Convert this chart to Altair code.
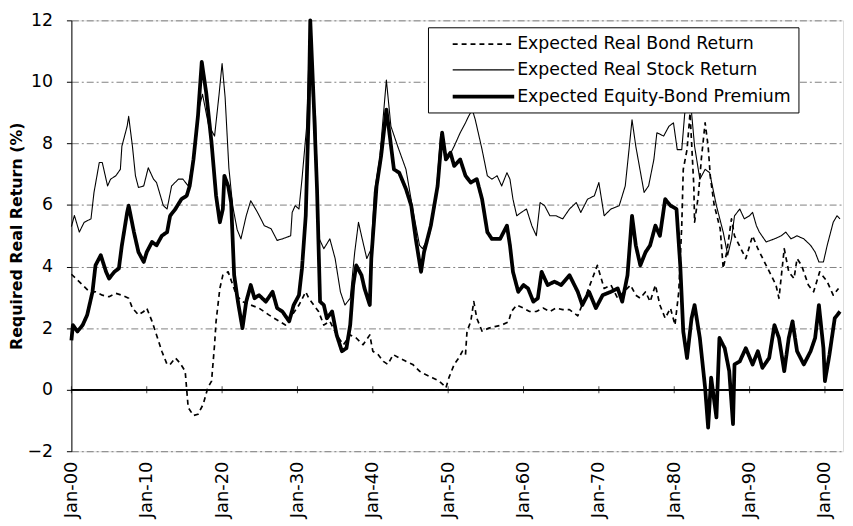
import altair as alt
import pandas as pd

# ---- data ----
stock_years = [1900.0, 1900.4, 1901.05, 1901.7, 1902.6, 1903.0, 1903.7, 1904.1, 1904.8, 1905.2, 1905.9, 1906.5,
               1906.7, 1907.4, 1907.6, 1908.1, 1908.5, 1908.9, 1909.6, 1910.2, 1910.9, 1911.3, 1912.2, 1912.7,
               1913.3, 1914.2, 1914.8, 1915.5, 1916.2, 1916.8, 1917.4, 1918.2, 1919.0, 1919.6, 1920.0, 1920.4,
               1920.9, 1921.4, 1922.0, 1922.5, 1923.2, 1923.8, 1924.7, 1925.6, 1926.5, 1927.3, 1928.0, 1929.1,
               1929.3, 1929.7, 1930.2, 1930.6, 1931.2, 1931.7, 1932.0, 1932.4, 1932.7, 1932.9, 1933.5, 1934.3,
               1935.0, 1935.7, 1936.3, 1937.0, 1937.6, 1938.1, 1938.5, 1939.2, 1939.8, 1940.2, 1940.9, 1941.8,
               1942.4, 1943.3, 1944.4, 1945.3, 1946.2, 1946.6, 1947.5, 1948.4, 1949.0, 1949.9, 1950.8, 1951.6,
               1952.3, 1952.7, 1953.2, 1953.6, 1954.5, 1955.2, 1955.8, 1956.5, 1957.1, 1957.8, 1958.2, 1958.6,
               1959.1, 1959.7, 1960.4, 1961.1, 1961.7, 1962.2, 1962.8, 1963.5, 1964.3, 1965.2, 1966.1, 1967.0,
               1967.6, 1968.5, 1969.4, 1970.0, 1970.7, 1971.6, 1972.7, 1973.5, 1974.0, 1974.4, 1974.9, 1976.0,
               1976.6, 1977.3, 1977.7, 1978.6, 1979.3, 1979.9, 1980.4, 1981.0, 1981.4, 1981.9, 1982.3, 1982.7,
               1983.4, 1984.1, 1984.7, 1985.6, 1986.5, 1987.1, 1987.6, 1988.0, 1988.7, 1989.3, 1990.0, 1990.4,
               1990.9, 1991.3, 1992.2, 1993.3, 1994.2, 1994.8, 1995.5, 1996.3, 1997.2, 1998.1, 1998.7, 1999.2,
               1999.8, 2000.3, 2001.1, 2001.6, 2002.0]
stock_values = [5.3, 5.66, 5.12, 5.44, 5.55, 6.41, 7.38, 7.38, 6.62, 6.84, 6.95, 7.16,
                7.91, 8.56, 8.88, 7.91, 6.95, 6.57, 6.62, 7.21, 6.84, 6.73, 5.98, 5.87,
                6.62, 6.84, 6.84, 6.62, 7.48, 9.0, 9.6, 8.6, 8.24, 9.6, 10.6, 9.5,
                7.2, 5.98, 5.2, 4.9, 5.65, 6.14, 5.76, 5.33, 5.23, 4.85, 4.9, 5.0,
                5.76, 5.98, 5.87, 6.84, 8.5, 12.0, 9.5, 8.9, 6.0, 4.9, 4.58, 4.9,
                4.26, 3.18, 2.75, 2.97, 4.47, 5.44, 5.0, 4.26, 4.58, 6.41, 7.48, 10.06,
                8.56, 7.91, 7.16, 5.87, 4.69, 4.58, 5.0, 6.3, 8.3, 7.48, 7.91, 8.35,
                8.67, 8.88, 9.1, 8.77, 7.8, 6.95, 6.84, 6.95, 6.62, 7.05, 6.84, 6.19,
                5.65, 5.76, 5.87, 5.33, 5.0, 6.08, 5.98, 5.65, 5.65, 5.55, 5.87, 6.08,
                5.76, 6.19, 6.3, 6.73, 5.65, 5.87, 5.98, 6.62, 7.8, 8.77, 7.91, 6.41,
                6.62, 7.48, 8.35, 8.24, 8.56, 8.67, 7.8, 7.8, 8.99, 9.1, 9.0, 7.91,
                6.84, 7.16, 7.05, 5.98, 5.12, 4.37, 4.9, 5.65, 5.87, 5.55, 5.65, 5.76,
                5.33, 5.12, 4.8, 4.9, 5.0, 5.12, 4.9, 5.0, 4.9, 4.69, 4.47, 4.15,
                4.15, 4.69, 5.44, 5.65, 5.55]

premium_years = [1900.0, 1900.2, 1900.8, 1901.5, 1902.1, 1902.8, 1903.2, 1903.9, 1904.6, 1905.0, 1905.7, 1906.3,
                 1906.7, 1907.4, 1907.6, 1908.3, 1908.9, 1909.6, 1910.0, 1910.7, 1911.3, 1912.0, 1912.7, 1913.1,
                 1913.8, 1914.6, 1915.3, 1915.7, 1916.2, 1916.8, 1917.3, 1917.9, 1918.6, 1919.2, 1919.7, 1920.1,
                 1920.3, 1920.8, 1921.2, 1921.6, 1922.1, 1922.7, 1923.2, 1923.8, 1924.3, 1924.9, 1925.8, 1926.7,
                 1927.3, 1928.0, 1928.9, 1929.5, 1930.2, 1930.6, 1931.1, 1931.5, 1931.7, 1932.2, 1932.6, 1933.0,
                 1933.5, 1933.9, 1934.6, 1935.2, 1935.9, 1936.5, 1937.0, 1937.4, 1937.8, 1938.5, 1938.9, 1939.6,
                 1939.8, 1940.5, 1941.1, 1941.8, 1942.2, 1942.8, 1943.5, 1944.4, 1945.1, 1945.7, 1946.4, 1946.8,
                 1947.7, 1948.6, 1949.2, 1949.7, 1950.3, 1950.8, 1951.6, 1952.3, 1953.0, 1953.8, 1954.5, 1955.2,
                 1955.8, 1956.9, 1957.8, 1958.2, 1958.6, 1959.3, 1960.0, 1960.6, 1961.3, 1961.9, 1962.4, 1963.2,
                 1964.1, 1965.0, 1966.1, 1967.2, 1967.8, 1968.7, 1969.6, 1970.5, 1971.6, 1972.5, 1973.1, 1973.8,
                 1974.4, 1974.9, 1975.5, 1976.2, 1976.8, 1977.5, 1978.1, 1978.8, 1979.5, 1980.3, 1980.8, 1981.2,
                 1981.7, 1982.3, 1982.7, 1983.4, 1984.1, 1984.5, 1984.9, 1985.6, 1986.0, 1986.7, 1987.3, 1987.8,
                 1988.0, 1988.7, 1989.5, 1990.4, 1991.1, 1991.7, 1992.6, 1993.3, 1993.9, 1994.6, 1995.2, 1995.7,
                 1996.3, 1997.2, 1998.1, 1998.7, 1999.2, 1999.8, 2000.0, 2000.6, 2001.3, 2002.0]
premium_values = [1.6, 2.1, 1.89, 2.1, 2.43, 3.18, 4.04, 4.37, 3.83, 3.61, 3.83, 3.94,
                  4.69, 5.76, 5.98, 5.12, 4.47, 4.15, 4.47, 4.8, 4.69, 5.0, 5.12, 5.65,
                  5.87, 6.19, 6.3, 6.62, 7.48, 8.9, 10.65, 9.63, 8.02, 6.3, 5.44, 5.87,
                  6.95, 6.62, 6.08, 3.72, 2.86, 2.0, 2.86, 3.4, 2.97, 3.07, 2.86, 3.18,
                  2.65, 2.54, 2.22, 2.75, 3.07, 3.94, 5.65, 9.1, 12.0, 9.1, 6.5, 2.86,
                  2.75, 2.32, 2.54, 1.78, 1.25, 1.35, 2.1, 3.4, 4.04, 3.72, 3.29, 2.75,
                  4.26, 6.62, 7.59, 9.1, 8.35, 7.16, 7.05, 6.52, 5.98, 4.9, 3.83, 4.47,
                  5.33, 6.62, 8.35, 7.48, 7.7, 7.27, 7.48, 6.95, 6.73, 6.84, 6.19, 5.12,
                  4.9, 4.9, 5.33, 4.69, 3.83, 3.18, 3.4, 3.29, 2.86, 2.97, 3.83, 3.4,
                  3.51, 3.4, 3.72, 3.18, 2.75, 3.18, 2.65, 3.07, 3.18, 3.29, 2.86, 3.72,
                  5.65, 4.69, 4.04, 4.47, 4.69, 5.33, 5.0, 6.19, 5.98, 5.87, 4.04, 1.89,
                  1.03, 2.32, 2.75, 1.68, 0.06, -1.23, 0.39, -0.9, 1.68, 1.35, 0.6, -1.12,
                  0.82, 0.92, 1.35, 0.82, 1.25, 0.71, 1.03, 2.1, 1.68, 0.6, 1.68, 2.22,
                  1.25, 0.82, 1.25, 1.68, 2.75, 1.35, 0.28, 1.14, 2.32, 2.54]

bond_years = [1900.0, 1900.6, 1901.5, 1902.4, 1903.2, 1904.1, 1905.0, 1905.9, 1906.7, 1907.6, 1908.1, 1908.9,
              1909.6, 1910.0, 1910.7, 1911.3, 1912.0, 1912.7, 1913.1, 1913.8, 1914.4, 1915.1, 1915.5, 1916.2,
              1916.8, 1917.5, 1918.1, 1918.6, 1919.0, 1919.2, 1919.7, 1920.1, 1920.8, 1921.9, 1922.7, 1923.8,
              1924.9, 1926.2, 1927.6, 1928.4, 1929.3, 1930.2, 1931.1, 1931.5, 1932.8, 1933.5, 1934.3, 1935.2,
              1936.1, 1937.0, 1937.8, 1938.7, 1939.6, 1940.0, 1940.7, 1941.4, 1942.0, 1942.7, 1943.5, 1944.4,
              1945.3, 1946.2, 1947.0, 1947.9, 1948.8, 1949.5, 1949.7, 1950.1, 1950.8, 1951.4, 1951.9, 1952.3,
              1952.5, 1953.0, 1953.4, 1953.8, 1954.5, 1955.4, 1956.2, 1957.1, 1958.0, 1958.4, 1959.1, 1960.0,
              1960.8, 1961.7, 1962.6, 1963.5, 1964.3, 1965.2, 1966.1, 1967.2, 1968.5, 1969.8, 1970.7, 1971.6,
              1972.5, 1973.3, 1974.2, 1974.9, 1975.5, 1976.2, 1976.8, 1977.5, 1978.1, 1978.8, 1979.5, 1980.1,
              1980.6, 1981.0, 1981.2, 1981.7, 1982.1, 1982.6, 1982.7, 1983.2, 1983.6, 1984.1, 1984.5, 1984.8,
              1985.3, 1986.1, 1986.5, 1987.0, 1987.6, 1988.0, 1989.5, 1990.4, 1991.1, 1992.2, 1993.5, 1993.9,
              1994.6, 1995.2, 1995.9, 1996.3, 1996.9, 1997.8, 1998.5, 1999.3, 2000.3, 2001.1, 2001.8]
bond_values = [3.75, 3.61, 3.4, 3.18, 3.18, 3.07, 3.02, 3.13, 3.07, 2.97, 2.65, 2.43,
               2.54, 2.65, 2.22, 1.78, 1.25, 0.82, 0.82, 1.03, 0.87, 0.6, -0.58, -0.84,
               -0.8, -0.47, 0.06, 0.28, 1.46, 2.22, 3.29, 3.72, 3.83, 3.07, 2.86, 2.75,
               2.65, 2.43, 2.22, 2.1, 2.43, 2.75, 3.18, 2.97, 2.54, 2.1, 2.22, 1.78,
               1.46, 1.78, 1.68, 1.46, 1.78, 1.25, 1.14, 0.92, 0.82, 1.14, 1.03, 0.92,
               0.82, 0.6, 0.49, 0.39, 0.28, 0.12, 0.06, 0.39, 0.82, 1.03, 1.25, 1.14,
               1.89, 2.22, 2.86, 2.32, 1.9, 2.0, 2.05, 2.1, 2.2, 2.54, 2.75, 2.65,
               2.54, 2.54, 2.65, 2.54, 2.65, 2.6, 2.6, 2.4, 3.2, 4.04, 3.29, 3.4,
               2.97, 3.18, 3.4, 3.07, 2.97, 3.18, 2.86, 3.4, 2.75, 2.32, 2.65, 2.1,
               3.18, 5.33, 7.16, 7.8, 8.99, 6.62, 5.44, 6.3, 7.5, 8.67, 7.91, 6.9,
               6.0, 5.23, 3.94, 4.5, 5.55, 5.0, 4.26, 5.0, 4.58, 4.04, 3.4, 2.97,
               4.58, 3.83, 3.61, 4.26, 4.04, 3.4, 3.18, 3.83, 3.51, 3.07, 3.29]

series_names = ["Expected Real Bond Return", "Expected Real Stock Return", "Expected Equity-Bond Premium"]
decade_ticks = [1900, 1910, 1920, 1930, 1940, 1950, 1960, 1970, 1980, 1990, 2000]
y_ticks = [-2, 0, 2, 4, 6, 8, 10, 12]

rows = []
for name, ys, vs in [(series_names[0], bond_years, bond_values),
                     (series_names[1], stock_years, stock_values),
                     (series_names[2], premium_years, premium_values)]:
    for yr, v in zip(ys, vs):
        rows.append({"series": name, "year": yr, "value": v})
df = pd.DataFrame(rows)
ticks_df = pd.DataFrame({"year": decade_ticks})

FONT = "DejaVu Sans"

x_scale = alt.Scale(domain=[1900, 2002.4], nice=False, zero=False)
y_scale = alt.Scale(domain=[-2, 12], nice=False)

legend = alt.Legend(title=None, orient="none", legendX=360, legendY=7,
                    symbolType="M-3.45,0H3.45", symbolSize=324,
                    symbolStrokeColor="black", symbolFillColor="transparent",
                    labelFont=FONT, labelFontSize=17.5, labelColor="black",
                    labelOffset=23, labelLimit=400,
                    strokeColor="black", fillColor="white",
                    padding=7, rowPadding=7, symbolOffset=38)

lines = alt.Chart(df).mark_line(color="black", strokeJoin="round").encode(
    x=alt.X("year:Q", scale=x_scale,
            axis=alt.Axis(values=decade_ticks, labelAngle=-90, domain=False, ticks=False, grid=False,
                          labelExpr="'Jan-' + (datum.value % 100 < 10 ? '0' : '') + (datum.value % 100)",
                          labelFont=FONT, labelFontSize=18, labelColor="black", labelPadding=10,
                          title=None)),
    y=alt.Y("value:Q", scale=y_scale,
            axis=alt.Axis(values=y_ticks, grid=True, gridColor="#555", gridDash=[7, 3, 2, 3],
                          gridOpacity=0.75, domainColor="black", tickColor="black", tickSize=5,
                          labelFont=FONT, labelFontSize=17.5, labelColor="black", labelPadding=14,
                          title="Required Real Return (%)", titleFont=FONT, titleFontSize=16,
                          titleFontWeight="bold", titleColor="black", titlePadding=3)),
    strokeDash=alt.StrokeDash("series:N",
                              scale=alt.Scale(domain=series_names, range=[[5, 4], [1, 0], [1, 0]]),
                              legend=legend),
    strokeWidth=alt.StrokeWidth("series:N",
                                scale=alt.Scale(type="ordinal", domain=series_names, range=[1.7, 1.1, 3.8]),
                                legend=legend),
    order=alt.Order("year:Q"),
)

zero_rule = alt.Chart(ticks_df).mark_rule(color="black", strokeWidth=1.2).encode(
    y=alt.datum(0, scale=y_scale)
)

tick_marks = alt.Chart(ticks_df).mark_tick(orient="vertical", color="black", size=7, thickness=1).encode(
    x=alt.X("year:Q", scale=x_scale),
    y=alt.datum(0, scale=y_scale),
)

chart = alt.layer(zero_rule, lines, tick_marks).properties(
    width=779, height=435,
    autosize=alt.AutoSizeParams(type="none"),
    padding={"left": 64, "top": 10, "right": 2, "bottom": 72},
).configure_view(stroke=None).configure(background="white")

chart.save("out.html", embed_options={"renderer": "svg", "actions": False})
